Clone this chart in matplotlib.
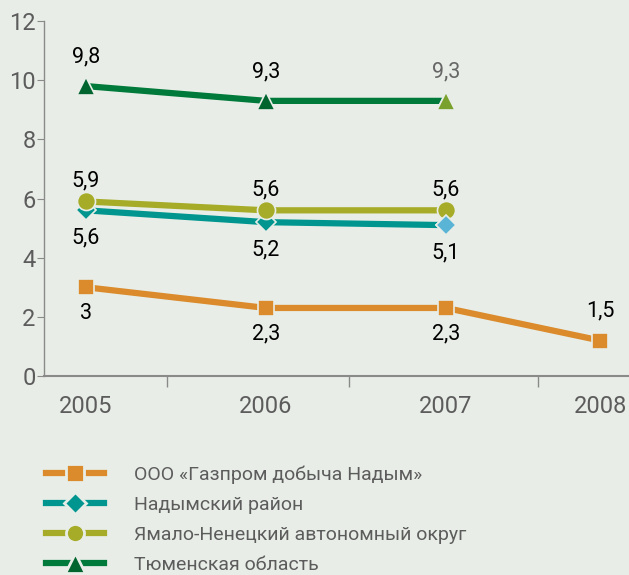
import matplotlib.pyplot as plt
from matplotlib.lines import Line2D

plt.rcParams['font.family'] = ['Roboto', 'DejaVu Sans']

# data
years = ['2005', '2006', '2007', '2008']
gazprom = [3.0, 2.3, 2.3, 1.2]
gazprom_lbl = ['3', '2,3', '2,3', '1,5']
nadym = [5.6, 5.2, 5.1]
nadym_lbl = ['5,6', '5,2', '5,1']
yanao = [5.9, 5.6, 5.6]
yanao_lbl = ['5,9', '5,6', '5,6']
tyumen = [9.8, 9.3, 9.3]
tyumen_lbl = ['9,8', '9,3', '9,3']
legend_names = ['ООО «Газпром добыча Надым»', 'Надымский район',
                'Ямало-Ненецкий автономный округ', 'Тюменская область']

# layout: 2008 sits a bit closer than the others
x_pos = [0, 1, 2, 2.856]

BG = '#e8eee7'
C_ORANGE = '#db8a2c'
C_TEAL = '#00968f'
C_OLIVE = '#a6ac27'
C_GREEN = '#007a3a'
C_DKGREEN = '#00642f'
GRAY = '#5c5c5c'

fig = plt.figure(figsize=(6.29, 5.75), dpi=100, facecolor=BG)
ax = fig.add_axes([44 / 629, 199 / 575, 585 / 629, 355 / 575], facecolor=BG)

lw = 4.5
ms = 12
mew = 1.2

ax.plot(x_pos[:4], gazprom, color=C_ORANGE, lw=lw, marker='s', ms=ms,
        mec=BG, mew=mew, zorder=3)
ax.plot(x_pos[:3], nadym, color=C_TEAL, lw=lw, marker='D', ms=ms - 2,
        mec=BG, mew=mew, zorder=3)
ax.plot(x_pos[:3], yanao, color=C_OLIVE, lw=lw, marker='o', ms=ms + 1,
        mec=BG, mew=mew, zorder=4)
ax.plot(x_pos[:3], tyumen, color=C_GREEN, lw=lw, marker='^', ms=ms + 1,
        mfc=C_DKGREEN, mec=BG, mew=mew, zorder=3)

# 2007 markers drawn in lighter shades
ax.plot(x_pos[2], nadym[2], marker='D', ms=ms - 2, color='#5ab4d6', mec=BG, mew=mew, zorder=5)
ax.plot(x_pos[2], tyumen[2], marker='^', ms=ms + 1, color='#7aa12e', mec=BG, mew=mew, zorder=5)

def put_labels(vals, lbls, dy, colors=None):
    for i, (v, t) in enumerate(zip(vals, lbls)):
        d = dy[i] if isinstance(dy, list) else dy
        c = colors[i] if colors else 'black'
        ax.annotate(t, (x_pos[i], v), xytext=(0, d), textcoords='offset points',
                    ha='center', va='center', fontsize=15.5, color=c)

put_labels(tyumen, tyumen_lbl, 21, ['black', 'black', '#666666'])
put_labels(yanao, yanao_lbl, 15)
put_labels(nadym, nadym_lbl, -20)
put_labels(gazprom, gazprom_lbl, [-19, -19, -19, 21])

ax.set_xlim(-0.233, 3.017)
ax.set_ylim(0, 12)
ax.set_yticks(range(0, 13, 2))
ax.set_xticks(x_pos, years)
ax.set_xticks([0.45, 1.46, 2.51], minor=True)

for s in ['top', 'right']:
    ax.spines[s].set_visible(False)
ax.spines['left'].set_color('#8a8a8a')
ax.spines['bottom'].set_color('#8a8a8a')
ax.spines['left'].set_linewidth(1)
ax.spines['bottom'].set_linewidth(1.5)

ax.tick_params(axis='y', length=5, color='#8a8a8a', labelsize=17, labelcolor=GRAY, pad=1)
ax.tick_params(axis='x', which='major', length=0, labelsize=17, labelcolor=GRAY, pad=14)
ax.tick_params(axis='x', which='minor', length=8, color='#8a8a8a', width=1)

handles = [
    Line2D([], [], color=C_ORANGE, lw=lw, marker='s', ms=ms + 1, mec=BG, mew=2),
    Line2D([], [], color=C_TEAL, lw=lw, marker='D', ms=ms - 1, mec=BG, mew=2),
    Line2D([], [], color=C_OLIVE, lw=lw, marker='o', ms=ms + 1, mec=BG, mew=2),
    Line2D([], [], color=C_GREEN, lw=lw, marker='^', ms=ms + 2, mfc=C_DKGREEN, mec=BG, mew=2),
]
leg = fig.legend(handles, legend_names, loc='upper left',
                 bbox_to_anchor=(46 / 629, 1 - 465 / 575), frameon=False,
                 fontsize=14, handlelength=3.0, handletextpad=1.5,
                 labelspacing=0.62, borderpad=0, borderaxespad=0)
for t in leg.get_texts():
    t.set_color(GRAY)

fig.savefig('out.png', dpi=100, facecolor=BG)
